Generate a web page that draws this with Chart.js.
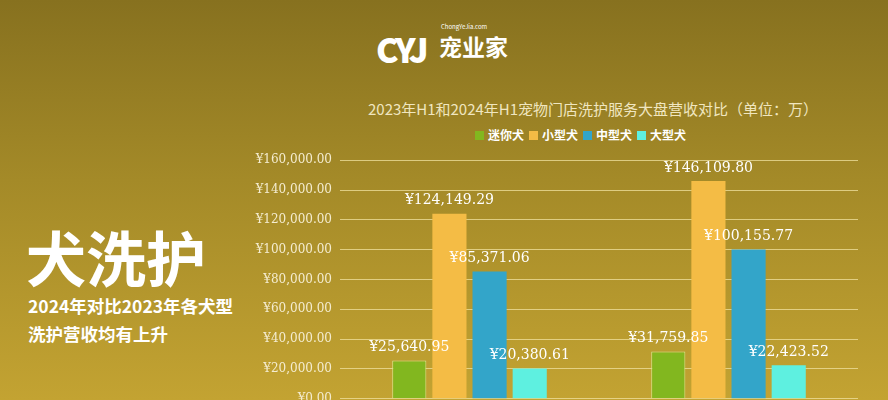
<!DOCTYPE html>
<html><head><meta charset="utf-8">
<script src="https://cdn.jsdelivr.net/npm/chart.js@4"></script>
<style>
body{margin:0;width:888px;height:400px;overflow:hidden;font-family:"Noto Sans CJK SC",sans-serif;
 background:linear-gradient(180deg,#87711f 0%,#a48a28 45%,#c3a332 100%);position:relative;color:#fff}
.abs{position:absolute}
#box{left:240px;top:145px;width:628px;height:269px}
</style></head><body>
<div class="abs" style="left:376px;top:24px;font-size:34px;font-weight:900;letter-spacing:-3px">CYJ</div>
<div class="abs" style="left:441px;top:22px;font-size:6px">ChongYeJia.com</div>
<div class="abs" style="left:439px;top:29px;font-size:23px;font-weight:bold">宠业家</div>
<div class="abs" style="left:368px;top:98px;font-size:15px;color:#f0e6c0">2023年H1和2024年H1宠物门店洗护服务大盘营收对比（单位：万）</div>
<div class="abs" id="legend" style="left:470px;top:126px;font-size:12px;font-weight:bold"></div>
<div class="abs" style="left:26px;top:212px;font-size:60px;font-weight:bold">犬洗护</div>
<div class="abs" style="left:28px;top:292px;font-size:17.5px;font-weight:bold;line-height:28px">2024年对比2023年各犬型<br>洗护营收均有上升</div>
<div class="abs" id="box"><canvas id="c"></canvas></div>
<script>
//-------------------Data-------------------
const periods = ['2023H1', '2024H1'];
const seriesNames = ['迷你犬', '小型犬', '中型犬', '大型犬'];
const seriesColors = ['#82b71f', '#f4bc45', '#33a5c9', '#5ef0e0'];
const miniDog = [25640.95, 31759.85];
const smallDog = [124149.29, 146109.80];
const mediumDog = [85371.06, 100155.77];
const largeDog = [20380.61, 22423.52];
const yTicks = [0, 20000, 40000, 60000, 80000, 100000, 120000, 140000, 160000];

function yen(v){
  return '¥' + v.toLocaleString('en-US', {minimumFractionDigits: 2, maximumFractionDigits: 2});
}

//---------legend----------
const lg = document.getElementById('legend');
seriesNames.forEach((n, i) => {
  lg.innerHTML += '<span style="display:inline-block;width:9px;height:9px;background:' + seriesColors[i] +
    ';margin:0 4px 0 5px"></span>' + n;
});

//---------value labels plugin----------
const valueLabels = {
  id: 'valueLabels',
  afterDatasetsDraw(chart){
    const ctx = chart.ctx;
    ctx.save();
    ctx.font = '14px "DejaVu Serif", serif';
    ctx.fillStyle = '#fff';
    ctx.textAlign = 'center';
    ctx.textBaseline = 'bottom';
    chart.data.datasets.forEach((ds, i) => {
      chart.getDatasetMeta(i).data.forEach((bar, j) => {
        ctx.fillText(yen(ds.data[j]), bar.x, bar.y - 6);
      });
    });
    ctx.restore();
  }
};

const allData = [miniDog, smallDog, mediumDog, largeDog];
new Chart(document.getElementById('c'), {
  type: 'bar',
  data: {
    labels: periods,
    datasets: allData.map((d, i) => ({
      label: seriesNames[i],
      data: d,
      backgroundColor: seriesColors[i],
      borderColor: i === 0 ? '#d8e890' : seriesColors[i],
      borderWidth: i === 0 ? 1 : 0,
      barPercentage: 0.85,
      categoryPercentage: 0.62
    }))
  },
  plugins: [valueLabels],
  options: {
    responsive: true,
    maintainAspectRatio: false,
    animation: false,
    layout: {padding: {top: 3, bottom: 3, right: 10}},
    plugins: {legend: {display: false}, tooltip: {enabled: false}},
    scales: {
      x: {display: false},
      y: {
        min: 0, max: 160000,
        afterFit: (s) => { s.width = 100; },
        afterBuildTicks: (s) => { s.ticks = yTicks.map(v => ({value: v})); },
        ticks: {color: '#f4ecd0', font: {family: '"DejaVu Serif", serif', size: 12}, callback: v => yen(v), padding: 8},
        grid: {color: 'rgba(240,225,160,0.75)', lineWidth: 1, drawTicks: false},
        border: {display: false}
      }
    }
  }
});
</script>
</body></html>
